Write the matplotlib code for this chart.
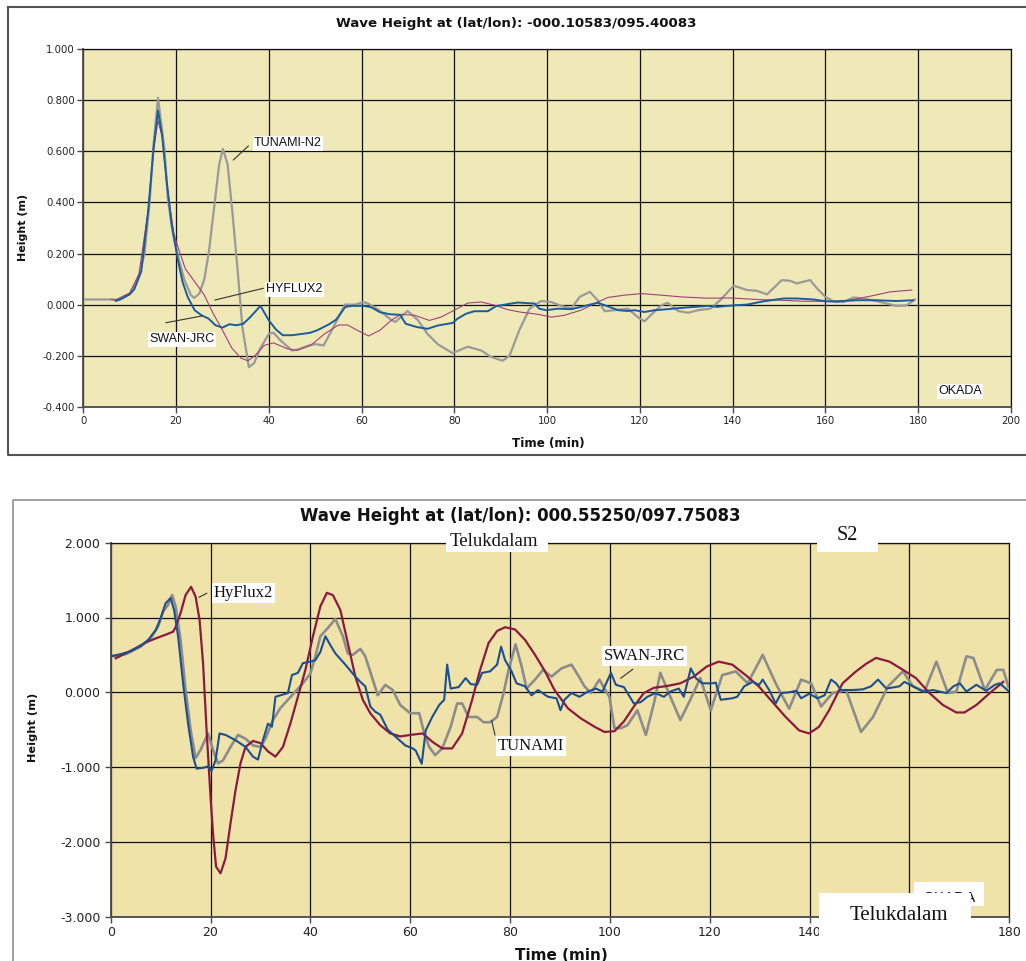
import matplotlib
matplotlib.use("Agg")
import matplotlib.pyplot as plt
from matplotlib.lines import Line2D
from matplotlib.patches import Rectangle

W, H = 1026, 961
DPI = 100

# ---------------- upper station ----------------
top_title = "Wave Height at (lat/lon): -000.10583/095.40083"
top_xticks = [0, 20, 40, 60, 80, 100, 120, 140, 160, 180, 200]
top_yticks = [-0.4, -0.2, 0.0, 0.2, 0.4, 0.6, 0.8, 1.0]
top_yticklabels = ["-0.400", "-0.200", "0.000", "0.200", "0.400", "0.600", "0.800", "1.000"]

tunami_n2_t = [0, 6.4, 7.1, 10, 11.1, 12.1, 13.2, 14.3, 15.1, 16.1, 16.8, 17.5, 18.2, 19.3,
               20.4, 21.8, 23.2, 23.9, 25, 26.1, 27.1, 28.2, 29.3, 30.1, 31.1, 32.1, 33.2,
               34.3, 35.7, 36.8, 38.2, 40, 41, 42.5, 45, 46.4, 48.6, 50, 51.8, 53.6, 55,
               56.4, 58.6, 60.4, 61.4, 63.6, 66.4, 67.3, 69.9, 72.1, 74.2, 76.4, 79.6, 82.9,
               85.8, 87.9, 90.4, 91.9, 94, 96.2, 98.7, 100.9, 103, 105.2, 107, 109.2, 110.9,
               112.4, 114.5, 117.4, 119.6, 121, 122.4, 124.6, 126, 128.2, 130.4, 132.5,
               135.2, 137.3, 140.2, 143.1, 145.2, 147.4, 150.6, 152.4, 153.8, 156.7, 158.2,
               160, 161.7, 163.9, 166, 168.2, 171, 173.2, 175.3, 177.5, 179.3]
tunami_n2_h = [0.02, 0.02, 0.015, 0.043, 0.076, 0.12, 0.2, 0.4, 0.62, 0.81, 0.71, 0.61, 0.42,
               0.28, 0.19, 0.096, 0.037, 0.026, 0.043, 0.10, 0.21, 0.38, 0.55, 0.61, 0.55,
               0.37, 0.15, -0.09, -0.245, -0.23, -0.17, -0.115, -0.11, -0.14, -0.18, -0.175,
               -0.16, -0.155, -0.16, -0.10, -0.05, 0.0, 0.0, 0.01, 0.004, -0.02, -0.06,
               -0.068, -0.025, -0.06, -0.115, -0.155, -0.19, -0.165, -0.18, -0.205, -0.22,
               -0.2, -0.10, -0.016, 0.014, 0.01, -0.005, -0.016, 0.03, 0.05, 0.017, -0.026,
               -0.022, -0.016, -0.05, -0.066, -0.04, -0.003, 0.007, -0.025, -0.032, -0.022,
               -0.016, 0.017, 0.074, 0.057, 0.054, 0.04, 0.096, 0.093, 0.083, 0.096, 0.063,
               0.03, 0.013, 0.01, 0.028, 0.024, 0.014, 0.004, -0.005, -0.003, 0.02]

hyflux2_t = [6, 7.1, 10, 12, 14, 15.1, 16.1, 17, 18, 19.5, 20.5, 22, 24, 26, 28, 30, 32, 34,
             35.5, 37, 39, 41, 44, 46, 49, 52, 55, 57, 59, 61.5, 64, 66.5, 68.5, 71.4, 74.6,
             77.1, 80, 82.9, 85.8, 88.6, 91.5, 94.4, 98, 100.9, 103.7, 107.3, 110.2, 113.1,
             116.7, 120.3, 124.6, 128.9, 134.7, 139.5, 145.2, 150.3, 155.3, 159.6, 162.5,
             166, 169.7, 174, 178.6]
hyflux2_h = [0.02, 0.02, 0.045, 0.12, 0.37, 0.6, 0.72, 0.66, 0.47, 0.28, 0.22, 0.14, 0.09,
             0.04, -0.035, -0.10, -0.17, -0.21, -0.22, -0.2, -0.16, -0.15, -0.173, -0.18,
             -0.16, -0.115, -0.08, -0.08, -0.1, -0.123, -0.1, -0.06, -0.038, -0.042, -0.062,
             -0.049, -0.022, 0.006, 0.01, -0.002, -0.02, -0.03, -0.038, -0.049, -0.042,
             -0.022, 0.004, 0.028, 0.037, 0.043, 0.037, 0.03, 0.025, 0.026, 0.02, 0.017,
             0.013, 0.013, 0.01, 0.02, 0.033, 0.05, 0.057]

swan_jrc_t = [7, 8, 10, 11, 12.5, 14, 15.2, 16.1, 17, 18, 19, 20.4, 21.4, 22.5, 24, 25.5, 27,
              28.5, 30, 31.5, 33, 34.5, 36, 38.2, 40, 41.5, 43, 45, 47.5, 49, 50.5, 53, 54.5,
              56.5, 58, 60.4, 62, 64, 66.2, 68.3, 69.5, 71.9, 74.2, 76.4, 79.6, 80.7, 82.5,
              84.3, 87.2, 89, 92.2, 93.7, 97.3, 98.3, 99.8, 102.3, 105.2, 107.3, 109.5, 110.9,
              113.1, 115.3, 117.4, 118.8, 121, 123.2, 126, 128.9, 131.8, 134.7, 136.6, 140.2,
              143.1, 146.7, 151, 153.8, 157.4, 160, 162.5, 166.8, 171, 175.3, 178.9]
swan_jrc_h = [0.015, 0.02, 0.04, 0.06, 0.13, 0.37, 0.62, 0.76, 0.66, 0.48, 0.32, 0.174, 0.089,
              0.03, -0.022, -0.042, -0.055, -0.081, -0.09, -0.077, -0.081, -0.075, -0.049,
              -0.005, -0.062, -0.097, -0.12, -0.12, -0.114, -0.11, -0.1, -0.077, -0.059,
              -0.009, -0.005, -0.005, -0.01, -0.03, -0.038, -0.04, -0.075, -0.088, -0.095,
              -0.082, -0.072, -0.055, -0.036, -0.026, -0.026, -0.006, 0.004, 0.008, 0.004,
              -0.016, -0.022, -0.016, -0.018, -0.009, 0.001, 0.007, -0.007, -0.022, -0.025,
              -0.022, -0.029, -0.022, -0.018, -0.013, -0.009, -0.005, -0.009, -0.003, 0.0,
              0.013, 0.024, 0.024, 0.02, 0.013, 0.013, 0.017, 0.017, 0.014, 0.017]

# ---------------- lower station (Telukdalam) ----------------
bot_title = "Wave Height at (lat/lon): 000.55250/097.75083"
bot_xticks = [0, 20, 40, 60, 80, 100, 120, 140, 160, 180]
bot_yticks = [-3, -2, -1, 0, 1, 2]
bot_yticklabels = ["-3.000", "-2.000", "-1.000", "0.000", "1.000", "2.000"]

hyflux_s2_t = [1, 3, 5, 7, 9, 11, 12.5, 13, 14, 15, 16.1, 17, 17.8, 18.5, 19.2, 20, 20.5, 21.1,
               22, 23, 24, 25, 26, 27, 28.5, 30, 31.5, 33, 34.5, 36, 37.5, 39, 40.5, 42, 43.3,
               44.5, 46, 47.5, 49, 50.5, 52, 54, 56, 58, 60, 62.5, 64.4, 66.4, 68.4, 70.4,
               72.4, 74, 75.7, 77.4, 79, 81, 83, 85, 87, 88.9, 91.6, 94.2, 96.9, 98.9, 100.9,
               102.8, 104.8, 106.8, 108.8, 111.5, 114.1, 116.8, 119.4, 121.8, 124.5, 127.2,
               129.8, 132.5, 135.2, 137.9, 139.9, 141.9, 143.9, 146.6, 149.3, 151.3, 153.3,
               156, 158.7, 161.3, 164, 166.7, 169.4, 171, 173.4, 176.1, 178.8]
hyflux_s2_h = [0.455, 0.52, 0.59, 0.665, 0.72, 0.77, 0.81, 0.87, 1.06, 1.30, 1.41, 1.28, 0.97,
               0.39, -0.5, -1.4, -1.89, -2.33, -2.42, -2.22, -1.75, -1.31, -0.95, -0.73,
               -0.65, -0.68, -0.79, -0.86, -0.73, -0.415, -0.06, 0.3, 0.745, 1.15, 1.33, 1.30,
               1.10, 0.656, 0.21, -0.1, -0.28, -0.44, -0.55, -0.59, -0.57, -0.55, -0.66,
               -0.75, -0.75, -0.55, -0.10, 0.30, 0.66, 0.82, 0.87, 0.84, 0.70, 0.50, 0.28,
               0.03, -0.215, -0.35, -0.46, -0.53, -0.52, -0.39, -0.19, -0.01, 0.06, 0.085,
               0.12, 0.21, 0.345, 0.41, 0.37, 0.23, 0.08, -0.125, -0.33, -0.51, -0.55, -0.46,
               -0.24, 0.12, 0.28, 0.38, 0.46, 0.41, 0.30, 0.19, -0.01, -0.17, -0.27, -0.27,
               -0.17, -0.01, 0.14]

swan_s2_t = [0, 2, 4, 6, 7.5, 9, 10, 11, 12, 12.7, 13.5, 14.5, 15.5, 16.5, 17.2, 18.5, 19.5,
             20.2, 21, 21.8, 23, 25, 27, 28.5, 29.5, 30.5, 31.5, 32.3, 33, 34, 35.5, 36.3,
             37.5, 38.5, 40, 41, 42, 43, 44, 45, 47, 49, 50, 51, 52, 53, 54, 55.5, 57, 59,
             60.5, 61.1, 62.3, 63.1, 64.4, 65.8, 66.8, 67.4, 68.1, 69.7, 71.1, 72.1, 73.4,
             74.4, 76, 77.4, 78.2, 79, 80.3, 81.3, 83, 84.3, 85.6, 87.6, 89.3, 90.1, 90.9,
             92.3, 93.9, 95.6, 97.2, 98.5, 100.2, 101.2, 102.8, 104.8, 106.2, 107.5, 109.1,
             110.8, 112.1, 113.8, 114.8, 116.2, 117.2, 118.5, 120.5, 121.2, 122.2, 124.5,
             125.5, 126.9, 128.6, 129.9, 130.6, 131.9, 133.2, 134.3, 135.9, 137.3, 138.3,
             139.9, 141.6, 143, 144.3, 145.3, 146.3, 148.7, 150.7, 152.3, 153.7, 155.4, 158,
             159, 160.7, 162.7, 164.7, 167.4, 168.8, 170.1, 171.4, 173.4, 175.4, 177.1,
             178.1, 179.8]
swan_s2_h = [0.48, 0.51, 0.55, 0.62, 0.70, 0.83, 0.99, 1.19, 1.26, 1.10, 0.75, 0.12, -0.42,
             -0.86, -1.02, -1.01, -0.99, -1.05, -0.91, -0.55, -0.57, -0.64, -0.73, -0.86,
             -0.90, -0.64, -0.42, -0.46, -0.06, -0.04, -0.01, 0.23, 0.26, 0.39, 0.41, 0.43,
             0.54, 0.75, 0.63, 0.52, 0.37, 0.21, 0.14, 0.08, -0.19, -0.26, -0.30, -0.50,
             -0.59, -0.71, -0.75, -0.78, -0.955, -0.51, -0.33, -0.17, -0.10, 0.37, 0.05,
             0.07, 0.19, 0.11, 0.10, 0.26, 0.28, 0.37, 0.61, 0.43, 0.28, 0.12, 0.08, -0.04,
             0.03, -0.06, -0.08, -0.24, -0.10, -0.01, -0.06, 0.01, 0.05, 0.01, 0.26, 0.10,
             0.07, -0.15, -0.13, -0.06, -0.01, -0.06, 0.01, 0.05, -0.06, 0.32, 0.19, 0.12,
             0.12, 0.13, -0.10, -0.08, -0.06, 0.08, 0.14, 0.10, 0.17, 0.03, -0.15, -0.01,
             0.0, 0.02, -0.08, -0.02, -0.08, -0.04, 0.17, 0.12, 0.03, 0.03, 0.04, 0.08,
             0.17, 0.05, 0.08, 0.14, 0.08, 0.01, 0.03, -0.01, 0.08, 0.12, 0.01, 0.10, 0.02,
             0.10, 0.12, 0.02]

tunami_s2_t = [0, 3, 6, 8, 9.5, 10.5, 11.5, 12.3, 13, 14, 15, 16, 17, 18, 19.5, 20.5, 21.5,
               22.5, 24, 25.5, 27, 28.5, 30, 31, 32.5, 34, 35.5, 37, 38.5, 40, 41, 42, 43.5,
               45, 46.5, 47.5, 48.5, 50, 51, 52.5, 53.5, 55, 56.5, 58, 60, 61.8, 62.8, 63.8,
               65, 66.4, 68.1, 69.4, 70.4, 71.7, 73.4, 74.7, 76, 77.4, 78.7, 79.7, 81.1,
               82.3, 83.3, 85, 86.6, 88.3, 90.3, 92.3, 93.6, 94.9, 96.2, 97.9, 98.9, 99.9,
               100.9, 102.2, 103.5, 105.5, 107.2, 108.8, 110.1, 112.1, 114.1, 116.1, 118.1,
               120.2, 122.5, 125.2, 127.6, 130.6, 133.2, 135.9, 138.3, 140.3, 142.3, 144.6,
               147.3, 150.3, 152.7, 155.7, 158.7, 160.7, 163, 165.4, 167.7, 169.4, 171.4,
               172.8, 175.1, 177.5, 178.8, 179.8]
tunami_s2_h = [0.48, 0.51, 0.61, 0.72, 0.88, 1.08, 1.17, 1.30, 1.15, 0.70, 0.03, -0.50,
               -0.88, -0.77, -0.55, -0.77, -0.95, -0.91, -0.73, -0.57, -0.62, -0.71, -0.73,
               -0.62, -0.37, -0.21, -0.10, 0.01, 0.12, 0.25, 0.48, 0.75, 0.86, 0.98, 0.75,
               0.52, 0.50, 0.58, 0.48, 0.17, -0.04, 0.10, 0.03, -0.17, -0.28, -0.28, -0.55,
               -0.73, -0.84, -0.75, -0.46, -0.15, -0.15, -0.33, -0.33, -0.40, -0.40, -0.33,
               -0.01, 0.30, 0.64, 0.35, 0.05, 0.17, 0.30, 0.21, 0.32, 0.37, 0.23, 0.08,
               -0.01, 0.17, 0.05, -0.06, -0.48, -0.48, -0.44, -0.24, -0.57, -0.15, 0.26,
               -0.06, -0.37, -0.10, 0.19, -0.24, 0.23, 0.28, 0.12, 0.50, 0.12, -0.22, 0.17,
               0.12, -0.19, -0.01, 0.03, -0.53, -0.33, 0.08, 0.28, 0.08, 0.01, 0.41, -0.01,
               0.01, 0.48, 0.46, 0.03, 0.30, 0.30, 0.08]

plt.rcParams["font.family"] = "DejaVu Sans"
fig = plt.figure(figsize=(W / DPI, H / DPI), dpi=DPI)
fig.patch.set_facecolor("white")


def fx(x):
    return x / W


def fy(y):
    return 1 - y / H


def place_axes(left, top, right, bottom):
    return fig.add_axes([fx(left), fy(bottom), (right - left) / W, (bottom - top) / H])


def style_axes(ax, face, xticks, yticks, ylabels, xlim, ylim, tick_size, ypad, xpad):
    ax.set_facecolor(face)
    ax.set_xlim(*xlim)
    ax.set_ylim(*ylim)
    ax.set_xticks(xticks)
    ax.set_xticklabels([str(v) for v in xticks])
    ax.set_yticks(yticks)
    ax.set_yticklabels(ylabels)
    ax.grid(True, color="#111111", lw=0.9)
    ax.set_axisbelow(True)
    for side in ("top", "right"):
        ax.spines[side].set_color("#111111")
        ax.spines[side].set_linewidth(0.9)
    for side in ("left", "bottom"):
        ax.spines[side].set_color("#4a4a4a")
        ax.spines[side].set_linewidth(1.3)
    ax.tick_params(axis="y", direction="out", length=4, width=1, color="#4a4a4a",
                   labelsize=tick_size, pad=ypad, labelcolor="#222222")
    ax.tick_params(axis="x", direction="out", length=4, width=1, color="#4a4a4a",
                   labelsize=tick_size, pad=xpad, labelcolor="#222222")


def leader(x1, y1, x2, y2, color="#333333"):
    fig.add_artist(Line2D([fx(x1), fx(x2)], [fy(y1), fy(y2)], transform=fig.transFigure,
                          color=color, lw=0.8, zorder=4))


def boxed(x, y, text, family, size, zorder=5, **kw):
    fig.text(fx(x), fy(y), text, ha="center", va="center", family=family, fontsize=size,
             color="#111111", zorder=zorder,
             bbox=dict(boxstyle="square,pad=0.12", fc="white", ec="none"), **kw)


# ---- panel frames ----
fig.add_artist(Line2D([fx(8), fx(8), fx(1026)], [fy(7), fy(455), fy(455)],
                      transform=fig.transFigure, color="#555555", lw=1.5))
fig.add_artist(Line2D([fx(8), fx(1026)], [fy(7), fy(7)],
                      transform=fig.transFigure, color="#555555", lw=1.5))
fig.add_artist(Line2D([fx(13), fx(13), fx(1026)], [fy(961), fy(499.5), fy(499.5)],
                      transform=fig.transFigure, color="#9a9a9a", lw=1.3))

# ---- upper chart ----
ax1 = place_axes(83.3, 49.3, 1011, 406.7)
style_axes(ax1, "#efe9b8", top_xticks, top_yticks, top_yticklabels, (0, 200), (-0.4, 1.0),
           7.3, 2.0, 3.0)
ax1.plot(hyflux2_t, hyflux2_h, color="#a3407a", lw=0.8, zorder=3)
ax1.plot(tunami_n2_t, tunami_n2_h, color="#9a9a9a", lw=1.6, zorder=2)
ax1.plot(swan_jrc_t, swan_jrc_h, color="#1a5c9c", lw=1.4, zorder=4)

fig.text(fx(516), fy(23.5), top_title, ha="center", va="center", fontsize=9.6,
         fontweight="bold", color="#111111")
fig.text(fx(548), fy(443), "Time (min)", ha="center", va="center", fontsize=8.6,
         fontweight="bold", color="#111111")
fig.text(fx(23), fy(227), "Height (m)", ha="center", va="center", fontsize=8.0,
         fontweight="bold", rotation=90, color="#111111")

leader(233.3, 160, 248.3, 146)
boxed(288, 143, "TUNAMI-N2", "Liberation Sans", 9)
leader(215, 300, 263.3, 288.3)
boxed(294.5, 289, "HYFLUX2", "Liberation Sans", 9)
leader(166, 322.7, 201.7, 316)
boxed(182, 339.5, "SWAN-JRC", "Liberation Sans", 9)
boxed(960, 391, "OKADA", "Liberation Sans", 9)

# ---- lower chart ----
ax2 = place_axes(110.7, 542.7, 1009.3, 916.7)
style_axes(ax2, "#f0e3a9", bot_xticks, bot_yticks, bot_yticklabels, (0, 180), (-3, 2),
           9.0, 3.5, 2.8)
ax2.plot(tunami_s2_t, tunami_s2_h, color="#8c8c8c", lw=1.9, zorder=2)
ax2.plot(hyflux_s2_t, hyflux_s2_h, color="#8b1a40", lw=1.6, zorder=3)
ax2.plot(swan_s2_t, swan_s2_h, color="#1c4f8e", lw=1.5, zorder=4)

fig.text(fx(520), fy(516), bot_title, ha="center", va="center", fontsize=12.0,
         fontweight="bold", color="#111111")
fig.text(fx(561), fy(955), "Time (min)", ha="center", va="center", fontsize=11,
         fontweight="bold", color="#111111")
fig.text(fx(33), fy(727.5), "Height (m)", ha="center", va="center", fontsize=8.2,
         fontweight="bold", rotation=90, color="#111111")

leader(199, 597.3, 206.7, 593.3)
boxed(243.5, 593, "HyFlux2", "Liberation Serif", 12)
leader(495, 735, 491.7, 720.7)
boxed(531, 745.5, "TUNAMI", "Liberation Serif", 12)
leader(620.7, 678.3, 632.7, 669.3)
boxed(644.5, 655.5, "SWAN-JRC", "Liberation Serif", 12)

# station name tags laid over the lower panel
fig.add_artist(Rectangle((fx(446), fy(552)), (548 - 446) / W, (552 - 530) / H,
                         transform=fig.transFigure, fc="white", ec="none", zorder=5))
fig.text(fx(494), fy(541), "Telukdalam", ha="center", va="center", family="Liberation Serif",
         fontsize=13.5, color="#111111", zorder=6)
fig.add_artist(Rectangle((fx(817), fy(552)), (878 - 817) / W, (552 - 523) / H,
                         transform=fig.transFigure, fc="white", ec="none", zorder=5))
fig.text(fx(847.5), fy(536), "S2", ha="center", va="center", family="Liberation Serif",
         fontsize=14.5, color="#111111", zorder=6)

fig.add_artist(Rectangle((fx(914), fy(906)), (984 - 914) / W, (906 - 882) / H,
                         transform=fig.transFigure, fc="white", ec="none", zorder=5))
fig.text(fx(949), fy(897.5), "OKADA", ha="center", va="center", family="Liberation Sans",
         fontsize=11, color="#111111", zorder=6)
fig.add_artist(Rectangle((fx(819), fy(961)), (971 - 819) / W, (961 - 893) / H,
                         transform=fig.transFigure, fc="white", ec="none", zorder=7))
fig.text(fx(899), fy(915), "Telukdalam", ha="center", va="center", family="Liberation Serif",
         fontsize=15, color="#111111", zorder=8)

fig.savefig("out.png", dpi=DPI, facecolor="white")
